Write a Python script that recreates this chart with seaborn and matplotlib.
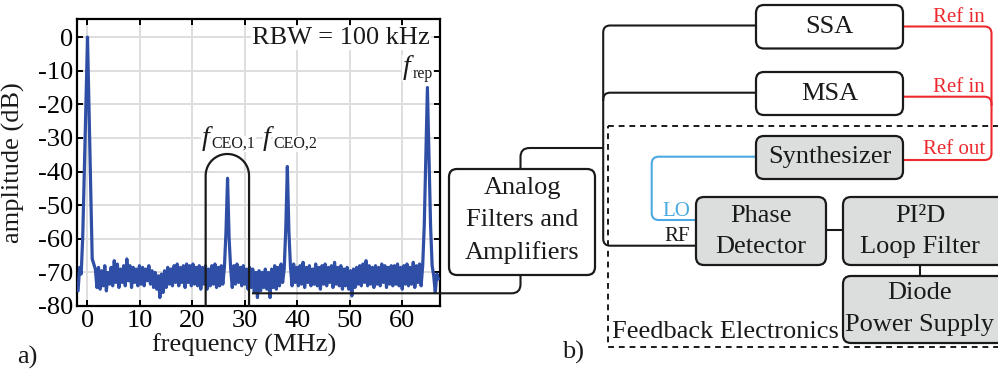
import numpy as np
import matplotlib
matplotlib.use("Agg")
import matplotlib.pyplot as plt
import seaborn as sns
from matplotlib.patches import FancyBboxPatch, Rectangle, PathPatch
from matplotlib.path import Path

sns.set_theme(style="whitegrid")
plt.rcParams['font.family'] = ['Liberation Serif', 'DejaVu Serif']
plt.rcParams['axes.unicode_minus'] = False

# ---- beat-note spectrum (RBW = 100 kHz), sweep from -1.8 MHz in 0.3 MHz steps ----
freq_start_mhz = -1.8
freq_step_mhz = 0.3
amplitude_db = [
    -75.5, -68.5, -70.5, -59.0, -40.0, -20.0, 0.0, -22.0, -44.0, -66.0,
    -67.5, -69.0, -74.5, -68.5, -75.0, -69.5, -74.0, -68.0, -75.5, -70.0,
    -73.5, -68.5, -74.0, -66.5, -73.0, -67.5, -74.5, -69.0, -73.0, -68.0,
    -74.0, -66.0, -72.5, -68.0, -74.5, -68.5, -73.0, -69.0, -74.0, -68.0,
    -73.5, -68.5, -74.0, -69.0, -72.5, -68.0, -73.5, -69.5, -74.5, -70.0,
    -75.0, -71.0, -77.5, -70.5, -76.0, -69.5, -74.5, -68.5, -73.5, -69.0,
    -74.0, -68.0, -73.0, -67.5, -74.0, -68.5, -73.0, -68.0, -74.5, -67.5,
    -73.0, -68.0, -74.0, -67.5, -73.5, -68.5, -74.0, -68.0, -75.0, -68.5,
    -73.5, -68.0, -75.0, -69.0, -74.0, -68.0, -73.5, -67.5, -74.5, -68.5,
    -74.0, -68.0, -73.5, -68.5, -58.0, -42.0, -60.0, -69.0, -74.5, -68.0,
    -73.5, -67.5, -73.0, -68.5, -74.0, -68.0, -73.5, -69.0, -75.0, -68.5,
    -74.5, -69.0, -76.0, -70.0, -77.5, -69.5, -75.5, -70.0, -74.5, -69.0,
    -75.0, -70.0, -77.5, -69.0, -74.5, -68.0, -75.0, -68.5, -74.0, -67.5,
    -73.0, -69.0, -57.0, -38.5, -58.0, -68.5, -74.0, -67.5, -73.0, -68.5,
    -74.0, -68.0, -73.5, -67.0, -74.5, -68.5, -73.0, -68.0, -74.0, -69.0,
    -73.5, -67.5, -74.0, -68.5, -75.0, -68.0, -73.5, -67.5, -74.0, -68.5,
    -73.0, -68.0, -74.5, -67.0, -73.5, -68.5, -74.0, -68.0, -75.0, -69.0,
    -74.0, -68.5, -75.0, -69.5, -77.0, -69.0, -74.5, -68.5, -73.5, -68.0,
    -74.0, -67.5, -73.0, -66.5, -74.0, -68.0, -73.5, -68.5, -74.5, -68.0,
    -73.5, -68.5, -74.0, -67.5, -73.0, -68.0, -74.5, -68.5, -73.5, -68.0,
    -74.0, -68.0, -73.5, -67.5, -74.0, -68.5, -75.0, -68.0, -73.5, -67.5,
    -74.0, -68.5, -73.5, -67.0, -74.5, -68.0, -73.0, -67.5, -74.0, -68.0,
    -56.0, -35.5, -15.0, -35.5, -56.0, -68.0, -71.0, -76.0, -70.5, -72.0,
]
freq_mhz = freq_start_mhz + freq_step_mhz * np.arange(len(amplitude_db))

x_ticks = [0, 10, 20, 30, 40, 50, 60]
y_ticks = [0, -10, -20, -30, -40, -50, -60, -70, -80]
peak_subscripts = ['CEO,1', 'CEO,2', 'rep']

TRACE = '#2f4fa6'
W, H = 998, 373
fig = plt.figure(figsize=(W / 100, H / 100), dpi=100, facecolor='white')

# ---- panel a: spectrum ----
ax = fig.add_axes([77 / W, 1 - 306 / H, 363 / W, 287 / H])
sns.lineplot(x=freq_mhz, y=amplitude_db, ax=ax, color=TRACE, linewidth=2.3, zorder=3)
ax.set_xlim(-2.0, 67.2)
ax.set_ylim(-80, 5.4)
ax.set_xticks(x_ticks)
ax.set_yticks(y_ticks)
ax.set_xticklabels([str(t) for t in x_ticks])
ax.set_yticklabels([str(t) for t in y_ticks])
ax.tick_params(direction='in', length=4, width=1.4, colors='black', labelsize=19,
               top=True, right=True, bottom=True, left=True, pad=3)
ax.grid(True, color='#dedede', linewidth=1.4)
for s in ax.spines.values():
    s.set_color('black')
    s.set_linewidth(1.6)
ax.set_facecolor('white')
ax.set_xlabel('frequency (MHz)', fontsize=19, color='#1a1a1a')
ax.xaxis.set_label_coords((244 - 77) / 363, -0.095)
ax.set_ylabel('amplitude (dB)', fontsize=19, color='#1a1a1a')
ax.yaxis.set_label_coords(-(77 - 25) / 363, 0.5)

txt_bg = dict(facecolor='white', edgecolor='none', pad=0.5)
ax.text(65.3, -0.2, 'RBW = 100 kHz', fontsize=19, ha='right', va='center',
        color='#1a1a1a', bbox=txt_bg, zorder=4)

# ---- panel b: block diagram, drawn in figure pixel units ----
dax = fig.add_axes([0, 0, 1, 1], facecolor='none', zorder=5)
dax.set_xlim(0, W)
dax.set_ylim(H, 0)
dax.axis('off')

EDGE = '#1a1a1a'
GRAY = '#dcdddd'
RED = '#ec2a2e'
BLUE = '#4aa9e2'


def box(x0, y0, x1, y1, fill):
    dax.add_patch(FancyBboxPatch((x0, y0), x1 - x0, y1 - y0,
                                 boxstyle='round,pad=0,rounding_size=8',
                                 fc=fill, ec=EDGE, lw=1.6, zorder=3))


def wire(pts, color=EDGE, r=7, lw=1.5):
    verts = [pts[0]]
    codes = [Path.MOVETO]
    for i in range(1, len(pts) - 1):
        p0, p1, p2 = (np.array(pts[i - 1], float), np.array(pts[i], float),
                      np.array(pts[i + 1], float))
        d0 = (p1 - p0) / np.linalg.norm(p1 - p0)
        d1 = (p2 - p1) / np.linalg.norm(p2 - p1)
        verts += [tuple(p1 - d0 * r), tuple(p1), tuple(p1 + d1 * r)]
        codes += [Path.LINETO, Path.CURVE3, Path.CURVE3]
    verts.append(pts[-1])
    codes.append(Path.LINETO)
    dax.add_patch(PathPatch(Path(verts, codes), fill=False, ec=color, lw=lw,
                            capstyle='butt', zorder=2))


def label(x, y, s, size=19, color=EDGE, ha='center'):
    dax.text(x, y, s, fontsize=size, color=color, ha=ha, va='center', zorder=4)


def freq_label(x, base, sub):
    # italic f followed by an upright subscript
    bg = dict(facecolor='white', edgecolor='none', pad=0.3)
    dax.text(x, base, 'f', fontsize=20, style='italic', color=EDGE,
             ha='left', va='baseline', zorder=4, bbox=bg)
    dax.text(x + 10, base + 3, sub, fontsize=11.5, color=EDGE,
             ha='left', va='baseline', zorder=4, bbox=bg)


# feedback electronics frame
dax.add_patch(Rectangle((607.7, 126), 500, 221.3, fill=False, ec=EDGE, lw=1.4,
                        linestyle=(0, (3, 2.5)), zorder=1))

# peak labels
for sub, (px, pb) in zip(peak_subscripts, [(201.5, 145), (263, 145), (402.5, 74.5)]):
    freq_label(px, pb, sub)

# arch around f_CEO,1 inside the spectrum panel
th = np.linspace(np.pi, 0, 60)
ax_c, ay_c, rr = 227.35, 175.7, 21.7
arch_x = np.concatenate([[205.65], ax_c + rr * np.cos(th), [249.05]])
arch_y = np.concatenate([[306], ay_c - rr * np.sin(th), [306]])
dax.plot(arch_x, arch_y, color=EDGE, lw=1.6, zorder=2)

# wires
wire([(252, 293.3), (520.5, 293.3), (520.5, 275)], r=9)
wire([(520.5, 169), (520.5, 148), (603.2, 148)], r=9)
wire([(756, 25.5), (603.2, 25.5), (603.2, 245.7), (696, 245.7)], r=7)
wire([(603.2, 101), (603.2, 92.7), (756, 92.7)], r=7)
wire([(903, 26.5), (991.5, 26.5), (991.5, 160), (903, 160)], color=RED, r=7)
wire([(903, 96.7), (991.5, 96.7), (991.5, 106)], color=RED, r=7)
wire([(756, 156.7), (651.7, 156.7), (651.7, 220), (696, 220)], color=BLUE, r=7)
wire([(826, 230), (843, 230)])
wire([(920, 265), (920, 276)])

# blocks
box(756, 5, 903, 48.5, 'white')
box(756, 72, 903, 115, 'white')
box(756, 136, 903, 179, GRAY)
box(449, 169, 595, 275, 'white')
box(696, 197, 826, 265, GRAY)
box(843, 197, 1010, 265, GRAY)
box(843, 276, 1010, 343, GRAY)

label(829.5, 27, 'SSA')
label(829.5, 93.5, 'MSA')
label(829.5, 157.5, 'Synthesizer')
label(522, 188, 'Analog')
label(522, 220, 'Filters and')
label(522, 253, 'Amplifiers')
label(761, 216, 'Phase')
label(761, 247, 'Detector')
label(920, 216, 'PI²D')
label(920, 247, 'Loop Filter')
label(920, 293, 'Diode')
label(920, 325, 'Power Supply')

label(985, 17.5, 'Ref in', size=15, color=RED, ha='right')
label(985, 87.5, 'Ref in', size=15, color=RED, ha='right')
label(985, 150, 'Ref out', size=15, color=RED, ha='right')
label(676.5, 211.7, 'LO', size=15, color=BLUE)
label(677, 236.7, 'RF', size=15)
label(611.7, 332, 'Feedback Electronics', ha='left')

label(573, 352, 'b)')
label(27, 357, 'a)')

fig.savefig('out.png', dpi=100, facecolor='white')
